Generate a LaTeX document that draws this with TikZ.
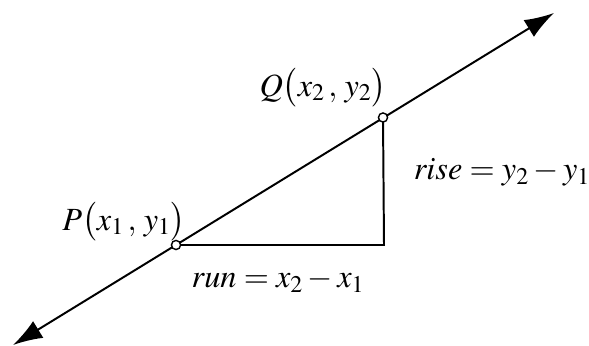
\documentclass[tikz,border=0pt]{standalone}
\usepackage{amsmath}
\usepackage{mathptmx}
\usepackage{tikz}
\usetikzlibrary{arrows.meta, positioning}

\begin{document}
\begin{tikzpicture}[x=0.025cm, y=0.025cm,
    lbl/.style={font=\fontsize{23}{27}\selectfont},
    dot/.style={circle, draw, fill=white, line width=1pt, inner sep=0pt, minimum size=6.5pt}]
    \useasboundingbox (0,0) rectangle (589,346);

    % 1. Hai đầu mút của đường thẳng
    \coordinate (A) at (13,1);
    \coordinate (B) at (554,333);
    \coordinate (C) at (384,101);

    % 2. Đường thẳng qua P và Q
    \draw[line width=1.4pt, {Latex[length=21pt,width=14pt]}-{Latex[length=21pt,width=14pt]}] (A) -- (B);

    % 3. Tam giác vuông
    \draw[line width=1.4pt] (176,101) -- (C) -- (383,228.5);

    % 4. Các điểm
    \node[dot] (P) at (176,101) {};
    \node[dot] (Q) at (383,228.5) {};

    % 5. Nhãn
    \node[lbl] (Plbl) at (124,124) {$P\bigl(x_1\,,\, y_1\bigr)$};
    \node[lbl] (Qlbl) at (323,258) {$Q\bigl(x_2\,,\, y_2\bigr)$};
    \node[lbl] (rise) at (502,174) {$\mathit{rise} = y_2 - y_1$};
    \node[lbl] (run) at (278,65) {$\mathit{run} = x_2 - x_1$};
\end{tikzpicture}
\end{document}
